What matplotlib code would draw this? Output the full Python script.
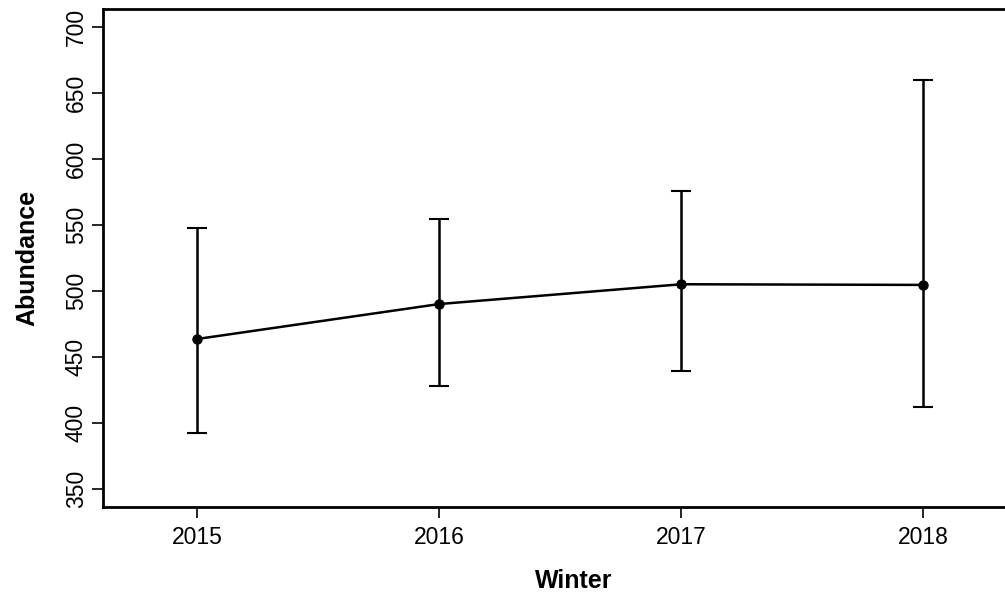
import matplotlib
matplotlib.use("Agg")
import matplotlib.pyplot as plt

# winter abundance estimates with confidence limits
winters = [2015, 2016, 2017, 2018]
abundance = [463.5, 490, 505, 504.5]
lower = [392, 428, 439, 412]
upper = [548, 554.5, 575.5, 660]

plt.rcParams["font.family"] = ["Liberation Sans", "DejaVu Sans"]

fig = plt.figure(figsize=(10.05, 5.96), dpi=100)
ax = fig.add_axes([0.1025, 0.1493, 0.9365, 0.836])

yerr = [[a - lo for a, lo in zip(abundance, lower)],
        [up - a for a, up in zip(abundance, upper)]]
ax.errorbar(winters, abundance, yerr=yerr, fmt="-o", color="black", lw=1.8,
            ms=6.5, capsize=7, capthick=1.5, elinewidth=1.8)

ax.set_xlim(2014.61, 2018.5)
ax.set_ylim(336, 714)
ax.set_xticks(winters)
ax.set_yticks(range(350, 701, 50))
ax.tick_params(axis="both", direction="out", length=8, width=1.2, labelsize=16.5, pad=6)
ax.tick_params(axis="y", pad=3)
for lab in ax.get_yticklabels():
    lab.set_rotation(90)
    lab.set_va("center")
for s in ax.spines.values():
    s.set_linewidth(2)

ax.set_xlabel("Winter", fontsize=18, fontweight="bold", labelpad=14)
ax.set_ylabel("Abundance", fontsize=18, fontweight="bold", labelpad=18)

fig.savefig("out.png", dpi=100)
